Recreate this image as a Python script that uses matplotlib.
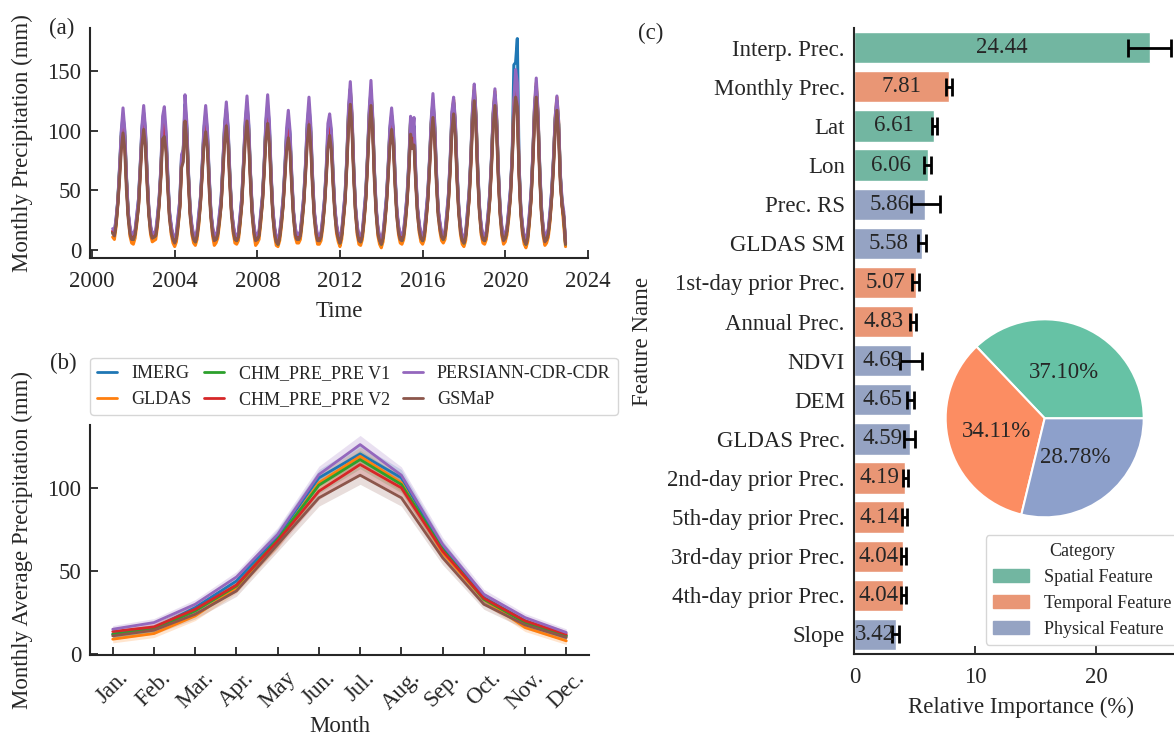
import numpy as np
import matplotlib
matplotlib.use("Agg")
import matplotlib.pyplot as plt
import seaborn as sns
from matplotlib.patches import Patch
from matplotlib.ticker import MultipleLocator

# ---------------------------------------------------------------- data
YEARS = list(range(2001, 2023))
SERIES = ["IMERG", "GLDAS", "CHM_PRE_PRE V1", "CHM_PRE_PRE V2", "PERSIANN-CDR-CDR", "GSMaP"]

# (a) monthly precipitation, one row per year (Jan..Dec)
IMERG_MONTHLY = [
    [15, 14, 26, 42, 68, 98, 112, 99, 60, 31, 18, 10],
    [10, 15, 28, 42, 70, 102, 115, 100, 62, 33, 19, 11],
    [12, 14, 27, 43, 68, 108, 110, 96, 61, 31, 19, 10],
    [8, 13, 27, 41, 78, 82, 122, 104, 64, 33, 19, 11],
    [8, 14, 29, 44, 71, 101, 114, 99, 62, 32, 18, 10],
    [10, 15, 29, 43, 72, 104, 118, 102, 64, 34, 20, 11],
    [9, 13, 28, 44, 73, 106, 122, 104, 64, 34, 19, 10],
    [10, 14, 30, 45, 72, 107, 121, 104, 63, 33, 18, 9],
    [6, 13, 27, 43, 68, 98, 108, 97, 61, 32, 17, 11],
    [10, 14, 29, 45, 71, 105, 120, 102, 63, 33, 19, 10],
    [9, 13, 26, 42, 66, 100, 108, 98, 63, 35, 20, 12],
    [8, 14, 31, 47, 77, 117, 135, 110, 68, 36, 19, 10],
    [9, 14, 30, 48, 78, 115, 134, 109, 66, 35, 18, 10],
    [6, 12, 27, 44, 69, 101, 113, 99, 62, 33, 19, 11],
    [10, 15, 29, 46, 73, 109, 92, 104, 64, 35, 21, 12],
    [9, 15, 30, 47, 74, 107, 125, 105, 65, 34, 22, 13],
    [10, 14, 29, 46, 74, 113, 124, 106, 65, 35, 19, 10],
    [7, 13, 30, 48, 77, 117, 132, 110, 68, 36, 19, 11],
    [9, 14, 29, 47, 76, 114, 129, 108, 66, 34, 18, 10],
    [11, 18, 33, 50, 78, 155, 157, 177, 72, 35, 19, 10],
    [6, 13, 29, 48, 79, 119, 137, 113, 69, 35, 18, 9],
    [10, 16, 31, 50, 76, 109, 124, 105, 62, 40, 28, 6],
]
GLDAS_MONTHLY = [
    [11, 9, 20, 40, 66, 95, 109, 96, 58, 30, 12, 6],
    [5, 10, 22, 38, 68, 98, 112, 98, 60, 31, 13, 7],
    [8, 9, 20, 40, 65, 103, 106, 92, 57, 29, 13, 6],
    [3, 7, 19, 37, 74, 83, 119, 102, 62, 31, 13, 6],
    [4, 9, 21, 41, 67, 98, 111, 96, 59, 30, 12, 4],
    [6, 10, 22, 39, 69, 101, 116, 99, 62, 33, 14, 6],
    [5, 8, 21, 40, 71, 103, 120, 101, 63, 32, 13, 4],
    [6, 9, 23, 42, 70, 104, 118, 100, 61, 31, 12, 4],
    [3, 8, 20, 39, 65, 94, 105, 93, 58, 30, 11, 6],
    [6, 9, 22, 41, 68, 101, 117, 99, 60, 31, 13, 5],
    [5, 8, 19, 38, 63, 96, 107, 95, 60, 33, 14, 7],
    [3, 9, 24, 43, 75, 115, 134, 111, 66, 34, 13, 5],
    [4, 9, 23, 44, 76, 113, 133, 110, 64, 33, 12, 5],
    [2, 7, 20, 40, 67, 99, 112, 98, 59, 31, 13, 6],
    [5, 9, 22, 42, 70, 108, 95, 99, 61, 33, 15, 7],
    [5, 9, 23, 43, 72, 106, 123, 103, 62, 32, 16, 8],
    [6, 9, 22, 42, 71, 111, 126, 106, 63, 33, 13, 5],
    [3, 8, 23, 44, 75, 117, 137, 113, 66, 34, 13, 6],
    [5, 9, 22, 43, 74, 114, 133, 110, 64, 32, 12, 5],
    [7, 13, 26, 46, 77, 123, 140, 132, 68, 33, 13, 5],
    [2, 7, 22, 44, 77, 119, 140, 115, 67, 33, 12, 4],
    [6, 11, 24, 46, 74, 111, 128, 107, 61, 37, 20, 3],
]
CHM_V1_MONTHLY = [
    [15, 13, 23, 41, 67, 95, 107, 95, 60, 31, 17, 10],
    [9, 14, 25, 39, 69, 98, 110, 97, 62, 32, 18, 11],
    [11, 13, 24, 41, 66, 103, 105, 91, 59, 30, 18, 10],
    [7, 11, 23, 38, 75, 83, 117, 101, 63, 32, 18, 10],
    [7, 13, 25, 42, 68, 98, 109, 95, 61, 31, 17, 9],
    [9, 14, 26, 40, 70, 101, 113, 98, 63, 34, 19, 10],
    [8, 12, 25, 41, 72, 103, 117, 100, 64, 33, 18, 9],
    [9, 13, 27, 43, 71, 104, 116, 99, 62, 32, 17, 8],
    [5, 12, 24, 40, 66, 94, 103, 92, 59, 31, 16, 10],
    [9, 13, 26, 42, 69, 101, 115, 98, 61, 32, 18, 9],
    [8, 12, 23, 39, 64, 96, 105, 94, 61, 34, 19, 11],
    [6, 13, 28, 44, 76, 114, 131, 109, 67, 35, 18, 9],
    [7, 13, 27, 45, 77, 112, 130, 108, 65, 34, 17, 9],
    [5, 11, 24, 41, 68, 99, 110, 97, 60, 32, 18, 10],
    [8, 13, 26, 43, 71, 107, 93, 98, 62, 34, 20, 11],
    [8, 13, 27, 44, 73, 105, 120, 102, 63, 33, 21, 12],
    [9, 13, 26, 43, 72, 110, 123, 104, 64, 34, 18, 9],
    [6, 12, 27, 45, 76, 116, 134, 111, 67, 35, 18, 10],
    [8, 13, 26, 44, 75, 113, 130, 108, 65, 33, 17, 9],
    [10, 17, 30, 47, 78, 120, 122, 119, 69, 34, 18, 9],
    [5, 11, 26, 45, 78, 117, 137, 113, 68, 34, 17, 8],
    [9, 15, 28, 47, 75, 109, 125, 105, 62, 38, 26, 5],
]
CHM_V2_MONTHLY = [
    [16, 14, 24, 40, 64, 91, 104, 91, 57, 30, 18, 11],
    [10, 15, 26, 38, 66, 94, 107, 93, 60, 32, 19, 12],
    [12, 14, 25, 40, 64, 104, 110, 89, 57, 29, 19, 11],
    [8, 12, 24, 37, 72, 80, 114, 97, 60, 31, 19, 11],
    [8, 14, 26, 41, 66, 94, 106, 91, 58, 31, 18, 10],
    [10, 15, 27, 39, 67, 97, 110, 94, 60, 33, 20, 11],
    [9, 13, 26, 40, 69, 99, 114, 96, 61, 33, 19, 10],
    [10, 14, 28, 42, 68, 100, 112, 95, 60, 32, 18, 9],
    [6, 13, 25, 39, 63, 90, 100, 88, 57, 31, 17, 11],
    [10, 14, 27, 41, 66, 97, 111, 94, 59, 32, 19, 10],
    [9, 13, 24, 38, 62, 92, 102, 90, 58, 34, 20, 12],
    [7, 14, 28, 43, 73, 110, 128, 105, 64, 34, 19, 10],
    [8, 14, 27, 44, 74, 108, 127, 104, 62, 33, 18, 10],
    [6, 12, 25, 40, 65, 95, 107, 93, 58, 32, 19, 11],
    [9, 14, 27, 42, 68, 103, 90, 94, 59, 34, 21, 12],
    [9, 14, 27, 43, 70, 101, 117, 98, 61, 33, 22, 13],
    [10, 14, 26, 42, 69, 106, 120, 100, 61, 33, 19, 10],
    [7, 13, 27, 44, 73, 112, 131, 107, 64, 34, 19, 11],
    [9, 14, 27, 43, 72, 109, 127, 104, 62, 32, 18, 10],
    [11, 18, 31, 46, 75, 117, 133, 122, 66, 33, 19, 10],
    [6, 12, 26, 44, 75, 113, 134, 109, 65, 33, 18, 9],
    [10, 16, 28, 46, 72, 105, 122, 101, 59, 37, 27, 6],
]
PERSIANN_MONTHLY = [
    [18, 16, 27, 42, 70, 100, 119, 101, 62, 33, 20, 13],
    [14, 17, 30, 43, 71, 104, 121, 102, 64, 35, 21, 13],
    [15, 16, 29, 44, 70, 112, 120, 100, 63, 33, 21, 12],
    [11, 15, 29, 42, 80, 84, 130, 108, 66, 35, 21, 13],
    [11, 16, 31, 45, 72, 104, 121, 102, 64, 34, 20, 12],
    [13, 17, 31, 44, 73, 106, 124, 104, 66, 36, 22, 13],
    [12, 15, 30, 45, 75, 109, 129, 107, 66, 36, 21, 12],
    [13, 16, 32, 46, 74, 110, 130, 108, 65, 35, 20, 11],
    [9, 15, 29, 44, 70, 102, 117, 100, 63, 34, 19, 13],
    [13, 16, 31, 46, 73, 108, 128, 106, 65, 35, 21, 12],
    [12, 15, 28, 43, 68, 106, 114, 101, 65, 37, 22, 14],
    [11, 16, 33, 48, 79, 120, 141, 115, 70, 38, 21, 12],
    [12, 16, 32, 49, 80, 118, 142, 113, 68, 37, 20, 12],
    [9, 14, 29, 45, 71, 104, 119, 102, 64, 35, 21, 13],
    [13, 17, 31, 47, 75, 112, 96, 111, 66, 37, 23, 14],
    [12, 17, 32, 48, 76, 110, 131, 108, 67, 36, 24, 15],
    [13, 16, 31, 47, 76, 116, 128, 109, 67, 37, 21, 12],
    [10, 15, 32, 49, 79, 120, 139, 114, 70, 38, 21, 13],
    [12, 16, 31, 48, 78, 117, 135, 112, 68, 36, 20, 12],
    [14, 20, 35, 51, 80, 125, 151, 140, 72, 37, 21, 12],
    [9, 15, 31, 49, 81, 122, 144, 117, 71, 37, 20, 11],
    [13, 18, 33, 51, 78, 112, 129, 108, 64, 42, 32, 7],
]
GSMAP_MONTHLY = [
    [14, 12, 22, 38, 60, 84, 98, 85, 50, 27, 14, 9],
    [9, 13, 24, 36, 63, 88, 101, 87, 54, 29, 15, 10],
    [11, 12, 22, 38, 61, 93, 95, 82, 51, 26, 15, 9],
    [6, 10, 21, 35, 69, 74, 108, 92, 55, 28, 15, 9],
    [7, 12, 23, 39, 63, 88, 99, 85, 52, 27, 14, 8],
    [9, 13, 24, 37, 64, 90, 104, 88, 55, 29, 16, 9],
    [8, 11, 23, 38, 66, 92, 108, 90, 56, 29, 15, 8],
    [9, 12, 25, 40, 65, 93, 106, 89, 55, 28, 14, 7],
    [5, 11, 22, 37, 60, 84, 94, 82, 52, 27, 13, 9],
    [9, 12, 24, 39, 63, 90, 105, 88, 54, 28, 15, 8],
    [8, 11, 21, 36, 59, 85, 96, 84, 54, 30, 16, 10],
    [6, 12, 26, 41, 70, 104, 122, 100, 60, 31, 15, 8],
    [7, 12, 25, 42, 71, 102, 121, 99, 58, 30, 14, 8],
    [5, 10, 22, 38, 62, 88, 101, 87, 53, 28, 15, 9],
    [8, 12, 24, 40, 65, 97, 85, 88, 55, 30, 17, 10],
    [8, 12, 25, 41, 67, 95, 111, 92, 56, 29, 18, 11],
    [9, 12, 24, 40, 66, 100, 114, 95, 57, 30, 15, 8],
    [6, 11, 25, 42, 70, 106, 125, 102, 60, 31, 15, 9],
    [8, 12, 24, 41, 69, 103, 121, 99, 58, 29, 14, 8],
    [10, 16, 28, 44, 72, 112, 128, 120, 62, 30, 15, 8],
    [5, 10, 24, 42, 72, 108, 128, 104, 61, 30, 14, 7],
    [9, 14, 26, 44, 69, 100, 117, 96, 55, 38, 28, 5],
]

# (b) monthly climatology (mean) and half-width of the shaded band
MONTH_LABELS = ["Jan.", "Feb.", "Mar.", "Apr.", "May", "Jun.", "Jul.",
                "Aug.", "Sep.", "Oct.", "Nov.", "Dec."]
IMERG_MEAN = [12, 15.6, 28, 44, 71, 106, 120.4, 106, 64, 34, 20, 11]
GLDAS_MEAN = [9, 12.4, 23, 40, 68, 103, 119, 103, 61, 33, 16, 8]
CHM_V1_MEAN = [12, 15, 26, 41, 69, 101.6, 117, 102, 63, 33, 19, 11]
CHM_V2_MEAN = [13.6, 16.4, 27, 41.6, 68, 98, 114, 100, 62, 33.6, 20, 12]
PERSIANN_MEAN = [15, 19, 30, 46.4, 72, 108, 126, 107.6, 66, 36, 22, 13]
GSMAP_MEAN = [11, 14.4, 24, 38, 66, 94, 107.6, 94, 58, 30, 17.6, 10]
BAND_HALF = [2.2, 2.4, 2.8, 3.2, 4.2, 5.0, 5.5, 5.0, 4.2, 3.0, 2.4, 2.2]

# (c) feature importance
FEATURES = ["Interp. Prec.", "Monthly Prec.", "Lat", "Lon", "Prec. RS", "GLDAS SM",
            "1st-day prior Prec.", "Annual Prec.", "NDVI", "DEM", "GLDAS Prec.",
            "2nd-day prior Prec.", "5th-day prior Prec.", "3rd-day prior Prec.",
            "4th-day prior Prec.", "Slope"]
IMPORTANCE = [24.44, 7.81, 6.61, 6.06, 5.86, 5.58, 5.07, 4.83, 4.69, 4.65, 4.59,
              4.19, 4.14, 4.04, 4.04, 3.42]
IMPORTANCE_ERR = [1.8, 0.26, 0.23, 0.27, 1.2, 0.33, 0.31, 0.26, 0.94, 0.29, 0.45,
                  0.21, 0.21, 0.21, 0.21, 0.27]
FEATURE_CATEGORY = ["Spatial Feature", "Temporal Feature", "Spatial Feature",
                    "Spatial Feature", "Physical Feature", "Physical Feature",
                    "Temporal Feature", "Temporal Feature", "Physical Feature",
                    "Physical Feature", "Physical Feature", "Temporal Feature",
                    "Temporal Feature", "Temporal Feature", "Temporal Feature",
                    "Physical Feature"]
CATEGORIES = ["Spatial Feature", "Temporal Feature", "Physical Feature"]

# ---------------------------------------------------------------- style
sns.set_theme(style="ticks")
FS = 16.5
plt.rcParams.update({
    "font.family": ["Liberation Serif", "DejaVu Serif"],
    "font.size": FS,
    "axes.labelsize": FS,
    "xtick.labelsize": FS,
    "ytick.labelsize": FS,
    "legend.fontsize": 13,
    "legend.title_fontsize": 13,
    "xtick.direction": "in",
    "ytick.direction": "in",
    "xtick.major.size": 6,
    "ytick.major.size": 6,
    "xtick.major.width": 1.3,
    "ytick.major.width": 1.3,
    "xtick.major.pad": 9,
    "ytick.major.pad": 6.5,
    "axes.labelpad": 7,
    "axes.linewidth": 1.5,
})

line_colors = sns.color_palette("tab10", 6)
set2 = sns.color_palette("Set2", 3)
cat_color = dict(zip(CATEGORIES, set2))
cat_bar_color = {c: sns.desaturate(col, 0.75) for c, col in cat_color.items()}

fig = plt.figure(figsize=(11.74, 7.4), dpi=100)

# ---------------------------------------------------------------- (a)
ax_a = fig.add_axes([0.0767, 0.651, 0.4243, 0.311])
monthly = [IMERG_MONTHLY, GLDAS_MONTHLY, CHM_V1_MONTHLY, CHM_V2_MONTHLY,
           PERSIANN_MONTHLY, GSMAP_MONTHLY]
t = (np.array(YEARS)[:, None] + np.arange(12)[None, :] / 12.0).ravel()
for name, table, col in zip(SERIES, monthly, line_colors):
    ax_a.plot(t, np.asarray(table, float).ravel(), color=col, lw=2.2, label=name)
ax_a.xaxis.set_major_locator(MultipleLocator(4))
ax_a.yaxis.set_major_locator(MultipleLocator(50))
ax_a.xaxis.set_major_formatter(plt.FuncFormatter(lambda v, p: f"{v:.0f}"))
ax_a.set_xlabel("Time")
ax_a.set_ylabel("Monthly Precipitation (mm)", labelpad=10)
sns.despine(ax=ax_a)

# ---------------------------------------------------------------- (b)
ax_b = fig.add_axes([0.0767, 0.1149, 0.425, 0.3108])
means = [IMERG_MEAN, GLDAS_MEAN, CHM_V1_MEAN, CHM_V2_MEAN, PERSIANN_MEAN, GSMAP_MEAN]
months = np.arange(1, 13)
band = np.asarray(BAND_HALF)
for name, m, col in zip(SERIES, means, line_colors):
    m = np.asarray(m)
    ax_b.fill_between(months, m - band, m + band, color=col, alpha=0.2, lw=0)
    ax_b.plot(months, m, color=col, lw=2, label=name)
ax_b.set_xticks(months)
ax_b.set_xticklabels(MONTH_LABELS, rotation=45)
ax_b.yaxis.set_major_locator(MultipleLocator(50))
ax_b.set_xlabel("Month", labelpad=1)
ax_b.set_ylabel("Monthly Average Precipitation (mm)", labelpad=10)
ax_b.legend(ncol=3, loc="lower left", bbox_to_anchor=(0.0, 1.043), borderaxespad=0,
            handlelength=1.1, handletextpad=0.8, columnspacing=0.7, frameon=True)
sns.despine(ax=ax_b)

# ---------------------------------------------------------------- (c)
ax_c = fig.add_axes([0.7278, 0.1162, 0.2835, 0.8458])
ypos = np.arange(len(FEATURES))
bars = ax_c.barh(ypos, IMPORTANCE, height=0.8,
                 color=[cat_bar_color[c] for c in FEATURE_CATEGORY],
                 xerr=IMPORTANCE_ERR,
                 error_kw=dict(ecolor="black", elinewidth=2, capsize=6.5, capthick=2))
ax_c.bar_label(bars, labels=[f"{v:.2f}" for v in IMPORTANCE], label_type="center",
               fontsize=FS, color=".15")
ax_c.set_yticks(ypos)
ax_c.set_yticklabels(FEATURES)
ax_c.set_ylim(len(FEATURES) - 0.5, -0.5)
ax_c.xaxis.set_major_locator(MultipleLocator(10))
ax_c.tick_params(axis="y", length=0, pad=7)
ax_c.set_xlabel("Relative Importance (%)")
ax_c.set_ylabel("Feature Name", labelpad=10)
ax_c.legend(handles=[Patch(color=cat_bar_color[c], label=c) for c in CATEGORIES],
            title="Category", loc="lower right", frameon=True)
sns.despine(ax=ax_c)

# pie of category totals
totals = [sum(v for v, c in zip(IMPORTANCE, FEATURE_CATEGORY) if c == cat)
          for cat in CATEGORIES]
ax_p = fig.add_axes([0.8055, 0.3009, 0.1687, 0.2676])
ax_p.pie(totals, colors=set2, startangle=0, autopct="%.2f%%", pctdistance=0.5,
         wedgeprops=dict(edgecolor="white", linewidth=1.5),
         textprops=dict(fontsize=FS, color=".15"))
ax_p.set_aspect("auto")
ax_p.set_xlim(-1.0, 1.0)
ax_p.set_ylim(-1.0, 1.0)

# panel tags
fig.text(62 / 1174, 1 - 28 / 740, "(a)", ha="center", va="center", fontsize=FS)
fig.text(63 / 1174, 1 - 363 / 740, "(b)", ha="center", va="center", fontsize=FS)
fig.text(651 / 1174, 1 - 33 / 740, "(c)", ha="center", va="center", fontsize=FS)

fig.savefig("out.png", dpi=100)
